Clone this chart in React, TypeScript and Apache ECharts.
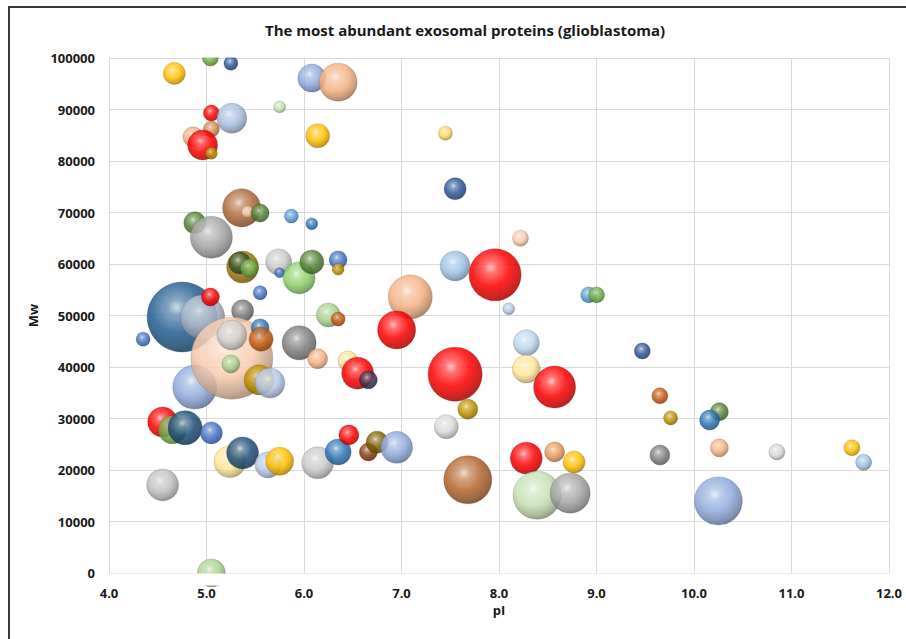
import { useEffect, useRef } from "react";
import * as echarts from "echarts";

// Isoelectric point (pI) of each protein
const pI = [
  4.67, 5.04, 5.25, 6.08, 6.35, 5.75, 5.05, 5.26, 5.05, 4.86,
  4.96, 5.05, 6.14, 5.36, 5.42, 5.55, 4.88, 5.87, 6.08, 5.05,
  5.37, 5.34, 5.44, 5.74, 5.75, 5.95, 6.08, 6.35, 6.35, 4.75,
  4.96, 5.04, 5.55, 5.37, 4.35, 4.88, 5.26, 5.26, 5.55, 5.56,
  5.25, 5.54, 5.65, 5.95, 6.25, 6.35, 6.14, 6.45, 6.55, 6.66,
  4.55, 4.65, 4.78, 5.05, 5.24, 5.37, 5.63, 5.75, 6.14, 6.35,
  6.46, 6.66, 6.75, 6.95, 4.55, 5.05, 7.45, 7.55, 8.22, 7.55,
  7.96, 7.09, 8.10, 8.92, 9.00, 6.95, 8.28, 9.47, 7.55, 8.28,
  8.57, 7.68, 7.46, 9.65, 9.76, 9.65, 8.28, 8.57, 8.77, 7.68,
  8.39, 8.73, 10.26, 10.16, 10.26, 10.85, 11.62, 11.74, 10.25,
];

// Molecular weight (Da)
const mw = [
  97000, 100000, 99000, 96100, 95300, 90500, 89300, 88300, 86200, 84700,
  83100, 81500, 84900, 70900, 70100, 69900, 68000, 69300, 67800, 65200,
  59400, 60200, 59200, 60400, 58300, 57300, 60400, 60800, 59000, 49700,
  49700, 53600, 54400, 50900, 45400, 36100, 41700, 46200, 47600, 45400,
  40600, 37500, 36900, 44700, 50100, 49300, 41600, 41200, 38800, 37500,
  29300, 27800, 28200, 27200, 21600, 23300, 21000, 21700, 21400, 23500,
  26800, 23500, 25400, 24400, 17100, 0, 85400, 74600, 65000, 59600,
  57900, 53600, 51300, 54000, 54000, 47200, 44700, 43100, 38600, 39600,
  36100, 31800, 28400, 34400, 30100, 22900, 22300, 23500, 21500, 18100,
  15100, 15500, 31300, 29700, 24300, 23500, 24300, 21500, 14000,
];

// Relative abundance (bubble size)
const abundance = [
  72, 38, 29, 117, 215, 21, 38, 134, 38, 59,
  134, 21, 86, 215, 21, 48, 72, 29, 21, 262,
  152, 72, 48, 101, 15, 152, 86, 48, 21, 729,
  288, 48, 29, 72, 29, 288, 1000, 134, 48, 86,
  48, 134, 134, 172, 86, 29, 59, 59, 152, 48,
  134, 117, 172, 72, 152, 152, 101, 117, 152, 101,
  59, 48, 72, 152, 152, 117, 29, 72, 38, 134,
  402, 288, 21, 38, 38, 215, 101, 38, 434, 117,
  262, 59, 86, 38, 29, 59, 152, 59, 72, 343,
  343, 238, 48, 59, 48, 38, 38, 38, 343,
];

// Fill tone of each bubble
const tones = [
  "#FFC000", "#70AD47", "#2F5597", "#8FAADC", "#F4B183", "#C5E0B4", "#FF0000", "#A9BEE0", "#D0894F", "#F4B183",
  "#FF0000", "#BF9000", "#FFC000", "#B06A3B", "#F8CBAD", "#548235", "#548235", "#5B9BD5", "#2E75B6", "#A5A5A5",
  "#A07A10", "#385723", "#70AD47", "#C9C9C9", "#4472C4", "#8FD16A", "#548235", "#4472C4", "#BF9000", "#255E91",
  "#ADB9CA", "#FF0000", "#4472C4", "#7B7B7B", "#4472C4", "#8FAADC", "#F8CBAD", "#D0CECE", "#2E75B6", "#C55A11",
  "#A9D18E", "#BF9000", "#B4C7E7", "#7F7F7F", "#A9D18E", "#C55A11", "#F4B183", "#FFE699", "#FF0000", "#403152",
  "#FF0000", "#70AD47", "#1F4E79", "#4472C4", "#FFE699", "#1F4E79", "#B4C7E7", "#FFC000", "#C9C9C9", "#2E75B6",
  "#FF0000", "#843C0C", "#7F6000", "#8FAADC", "#BFBFBF", "#A9D18E", "#FFD966", "#2F5597", "#F8CBAD", "#9DC3E6",
  "#FF0000", "#F4B183", "#B4C7E7", "#5B9BD5", "#70AD47", "#FF0000", "#BDD7EE", "#2F5597", "#FF0000", "#FFE699",
  "#FF0000", "#BF9000", "#D9D9D9", "#C55A11", "#BF9000", "#7F7F7F", "#FF0000", "#E59A5E", "#FFC000", "#B5652F",
  "#C5E0B4", "#A5A5A5", "#548235", "#2E75B6", "#F4B183", "#D9D9D9", "#FFC000", "#9DC3E6", "#8FAADC",
];

const TITLE = "The most abundant exosomal proteins (glioblastoma)";
const FONT = "'Open Sans', sans-serif";

function rgb(hex: string): number[] {
  const n = parseInt(hex.slice(1), 16);
  return [(n >> 16) & 255, (n >> 8) & 255, n & 255];
}

function mix(hex: string, target: number, t: number, alpha = 1): string {
  const c = rgb(hex).map((v) => Math.round(v + (target - v) * t));
  return `rgba(${c[0]},${c[1]},${c[2]},${alpha})`;
}

// Glossy sphere fill for a bubble
function sphere(hex: string) {
  return new echarts.graphic.RadialGradient(0.42, 0.36, 0.66, [
    { offset: 0, color: mix(hex, 255, 0.75) },
    { offset: 0.18, color: mix(hex, 255, 0.35) },
    { offset: 0.55, color: mix(hex, 255, 0) },
    { offset: 0.85, color: mix(hex, 0, 0.22) },
    { offset: 1, color: mix(hex, 0, 0.38) },
  ]);
}

export default function App() {
  const ref = useRef<HTMLDivElement>(null);

  useEffect(() => {
    if (!ref.current) return;
    const chart = echarts.init(ref.current, undefined, { renderer: "svg" });

    const points = pI.map((x, i) => ({
      value: [x, mw[i], abundance[i]],
      itemStyle: {
        color: sphere(tones[i]),
        borderColor: mix(tones[i], 0, 0.45, 0.5),
        borderWidth: 0.6,
        opacity: 0.86,
      },
    }));

    const labelStyle = {
      color: "#1a1a1a",
      fontWeight: "bold" as const,
      fontSize: 13,
      fontFamily: FONT,
    };
    const gridLine = { lineStyle: { color: "#d9d9d9", width: 1 } };

    chart.setOption({
      animation: false,
      backgroundColor: "#ffffff",
      grid: { left: 109, right: 17, top: 58, bottom: 66 },
      xAxis: {
        type: "value",
        min: 4,
        max: 12,
        interval: 1,
        name: "pI",
        nameLocation: "middle",
        nameGap: 27,
        nameTextStyle: { ...labelStyle, fontSize: 13 },
        axisLine: { show: true, lineStyle: { color: "#d9d9d9" } },
        axisTick: { show: false },
        axisLabel: { ...labelStyle, margin: 13, formatter: (v: number) => v.toFixed(1) },
        splitLine: { show: true, ...gridLine },
      },
      yAxis: {
        type: "value",
        min: 0,
        max: 100000,
        interval: 10000,
        name: "Mw",
        nameLocation: "middle",
        nameGap: 64,
        nameTextStyle: { ...labelStyle, fontSize: 13 },
        axisLine: { show: true, lineStyle: { color: "#d9d9d9" } },
        axisTick: { show: false },
        axisLabel: { ...labelStyle, margin: 14, formatter: (v: number) => String(v) },
        splitLine: { show: true, ...gridLine },
      },
      series: [
        {
          type: "scatter",
          symbol: "circle",
          data: points,
          symbolSize: (val: number[]) => 82 * Math.sqrt(val[2] / 1000),
          emphasis: { disabled: true },
        },
      ],
      graphic: [
        // mask bubble parts that spill outside the plot area
        {
          type: "rect",
          z: 50,
          silent: true,
          shape: { x: 100, y: 9, width: 800, height: 48.5 },
          style: { fill: "#ffffff" },
        },
        {
          type: "rect",
          z: 50,
          silent: true,
          shape: { x: 100, y: 573.5, width: 800, height: 12 },
          style: { fill: "#ffffff" },
        },
        {
          type: "rect",
          z: 60,
          silent: true,
          shape: { x: 9, y: 7, width: 1200, height: 1200 },
          style: { fill: "none", stroke: "#3a3a3a", lineWidth: 2 },
        },
        {
          type: "text",
          z: 70,
          x: 465,
          y: 30,
          style: {
            text: TITLE,
            align: "center",
            verticalAlign: "middle",
            fill: "#1a1a1a",
            font: `bold 15px ${FONT}`,
          },
        },
      ],
    });

    return () => chart.dispose();
  }, []);

  return <div ref={ref} style={{ width: 906, height: 639, position: "absolute", left: 0, top: 0 }} />;
}
